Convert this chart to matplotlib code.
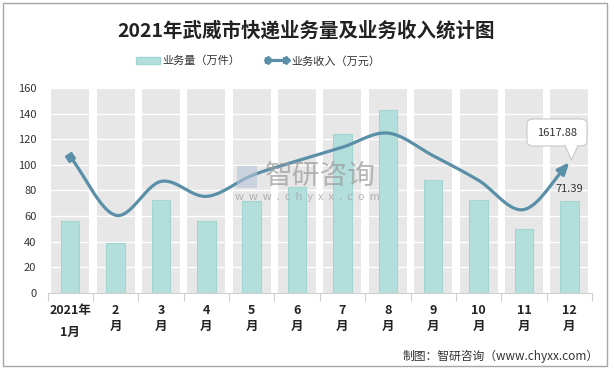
import numpy as np
import matplotlib
matplotlib.use("Agg")
import matplotlib.pyplot as plt
from matplotlib.patches import Rectangle, FancyBboxPatch, Polygon
from matplotlib.markers import MarkerStyle
from matplotlib.transforms import Affine2D
from matplotlib.lines import Line2D
from matplotlib.patches import Patch
from matplotlib.legend_handler import HandlerTuple

plt.rcParams['font.family'] = ['Noto Sans CJK SC', 'DejaVu Sans']

months = ["2021年\n1月", "2\n月", "3\n月", "4\n月", "5\n月", "6\n月", "7\n月",
          "8\n月", "9\n月", "10\n月", "11\n月", "12\n月"]
volume = [56, 39, 72.8, 56, 71.7, 82.6, 124, 142.7, 87.8, 72.8, 49.5, 71.39]   # 万件
revenue = [1689, 962, 1381, 1195, 1454, 1635, 1805, 1981, 1699, 1394, 1032, 1617.88]  # 万元
yticks = [0, 20, 40, 60, 80, 100, 120, 140, 160]

W, H = 614, 370
fig = plt.figure(figsize=(W / 100, H / 100), dpi=100)

def fx(x):
    return x / W

def fy(y):
    return 1 - y / H

# outer border
fig.patches.append(Rectangle((fx(3), fy(366)), fx(604), (363) / H, transform=fig.transFigure,
                             fill=False, edgecolor='#a6a6a6', lw=1.0))

ax = fig.add_axes([fx(47.5), fy(292.7), fx(592 - 47.5), (292.7 - 88) / H])
n = len(months)
x = np.arange(n)

# gray category bands
for i in x:
    ax.axvspan(i - 0.42, i + 0.42, color='#e7e7e7', zorder=0, lw=0)
for t in yticks[1:]:
    ax.axhline(t, color='white', lw=1.0, zorder=1)

ax.bar(x, volume, width=0.41, color='#b2dfdb', edgecolor='#a3d6d1', lw=0.8, zorder=2)

ax.set_xlim(-0.5, n - 0.5)
ax.set_ylim(0, 160)
ax.set_yticks(yticks)
ax.set_yticklabels([str(v) for v in yticks], fontsize=8, color='#333333')
ax.tick_params(axis='y', length=0, pad=8)
ax.set_xticks(x)
ax.set_xticklabels(months, fontsize=9, fontweight='bold', color='#222222', linespacing=1.35)
ax.tick_params(axis='x', length=0, pad=8)
ax.get_xticklabels()[0].set_linespacing(1.9)
ax.set_xticks(np.arange(-0.5, n, 1.0), minor=True)
ax.tick_params(axis='x', which='minor', length=6, color='#d0d0d0', width=0.8)
for s in ['top', 'right', 'left']:
    ax.spines[s].set_visible(False)
ax.spines['bottom'].set_color('#d0d0d0')
ax.set_facecolor('white')

# secondary hidden axis for revenue
ax2 = ax.twinx()
ax2.set_ylim(0, 2540)
ax2.axis('off')

# Catmull-Rom smoothing for display
pts = np.column_stack([x, revenue]).astype(float)
P = np.vstack([2 * pts[0] - pts[1], pts, 2 * pts[-1] - pts[-2]])
curve = []
for k in range(1, len(P) - 2):
    p0, p1, p2, p3 = P[k - 1], P[k], P[k + 1], P[k + 2]
    for t in np.linspace(0, 1, 30, endpoint=False):
        t2, t3 = t * t, t * t * t
        c = 0.5 * ((2 * p1) + (-p0 + p2) * t + (2 * p0 - 5 * p1 + 4 * p2 - p3) * t2
                   + (-p0 + 3 * p1 - 3 * p2 + p3) * t3)
        curve.append(c)
curve.append(pts[-1])
curve = np.array(curve)
lc = '#5a8fa8'
ax2.plot(curve[:-4, 0], curve[:-4, 1], color=lc, lw=2.3, zorder=4, solid_capstyle='round')
ax2.annotate('', xy=(curve[-1, 0], curve[-1, 1]), xytext=(curve[-6, 0], curve[-6, 1]),
             arrowprops=dict(arrowstyle='-|>,head_length=0.7,head_width=0.3', color=lc, lw=2.3,
                             shrinkA=0, shrinkB=0), zorder=5)
# start marker (rotated square)
d = curve[3] - curve[0]
ang = np.degrees(np.arctan2(d[1] / 2540 * 205, d[0] * 45.4))
ax2.plot([curve[0, 0]], [curve[0, 1]], marker=MarkerStyle('s', transform=Affine2D().rotate_deg(ang)),
         color=lc, markersize=5, zorder=5)

# data label for volume
ax.text(x[-1], volume[-1] + 6, '71.39', ha='center', va='bottom', fontsize=8, color='#333333', zorder=6)

# callout for revenue
box = FancyBboxPatch((fx(527), fy(146)), fx(60), 27 / H, transform=fig.transFigure,
                     boxstyle='round,pad=0,rounding_size=0.012', facecolor='white',
                     edgecolor='#c8c8c8', lw=0.8, zorder=10)
fig.patches.append(box)
fig.patches.append(Polygon([(fx(565), fy(145.5)), (fx(571.5), fy(160)), (fx(578), fy(145.5))],
                           closed=True, transform=fig.transFigure, facecolor='white',
                           edgecolor='#c8c8c8', lw=0.8, zorder=11))
fig.patches.append(Polygon([(fx(565.8), fy(145.0)), (fx(577.2), fy(145.0)), (fx(577.2), fy(147)),
                            (fx(565.8), fy(147))], closed=True, transform=fig.transFigure,
                           facecolor='white', edgecolor='none', zorder=12))
fig.text(fx(557), fy(133), '1617.88', ha='center', va='center', fontsize=8, color='#333333', zorder=13)

# title
fig.text(fx(306), fy(31), '2021年武威市快递业务量及业务收入统计图', ha='center', va='center',
         fontsize=14, fontweight='bold', color='#222222')

# legend
h_bar = Patch(facecolor='#b2dfdb', edgecolor='#a3d6d1')
h_line = (Line2D([0], [0], color=lc, lw=2.3),
          Line2D([0], [0], color=lc, lw=0, marker='D', markersize=4.5, markevery=[0]),
          Line2D([0], [0], color=lc, lw=0, marker='>', markersize=5, markevery=[1]))
fig.legend([h_bar, h_line], ['业务量（万件）', '业务收入（万元）'], loc='center',
           bbox_to_anchor=(fx(258), fy(61)), ncol=2, frameon=False, fontsize=8, numpoints=2,
           handlelength=2.2, handletextpad=0.2, columnspacing=2.2, labelcolor='#333333',
           handler_map={tuple: HandlerTuple(ndivide=1)})

# watermark
fig.patches.append(Rectangle((fx(237), fy(188)), fx(20), 22 / H, transform=fig.transFigure,
                             facecolor='#b8c4d8', edgecolor='none', alpha=0.6, zorder=8))
fig.text(fx(320), fy(176), '智研咨询', ha='center', va='center', fontsize=20, color='#9a9a9a',
         alpha=0.7, zorder=8)
fig.text(fx(307), fy(197), 'w  w  w  .  c  h  y  x  x  .  c  o  m', ha='center', va='center',
         fontsize=8, color='#9a9a9a', alpha=0.7, zorder=8)

# source
fig.text(fx(599), fy(356), '制图：智研咨询（www.chyxx.com）', ha='right', va='center', fontsize=8.5,
         color='#333333')

fig.savefig('out.png', dpi=100)
